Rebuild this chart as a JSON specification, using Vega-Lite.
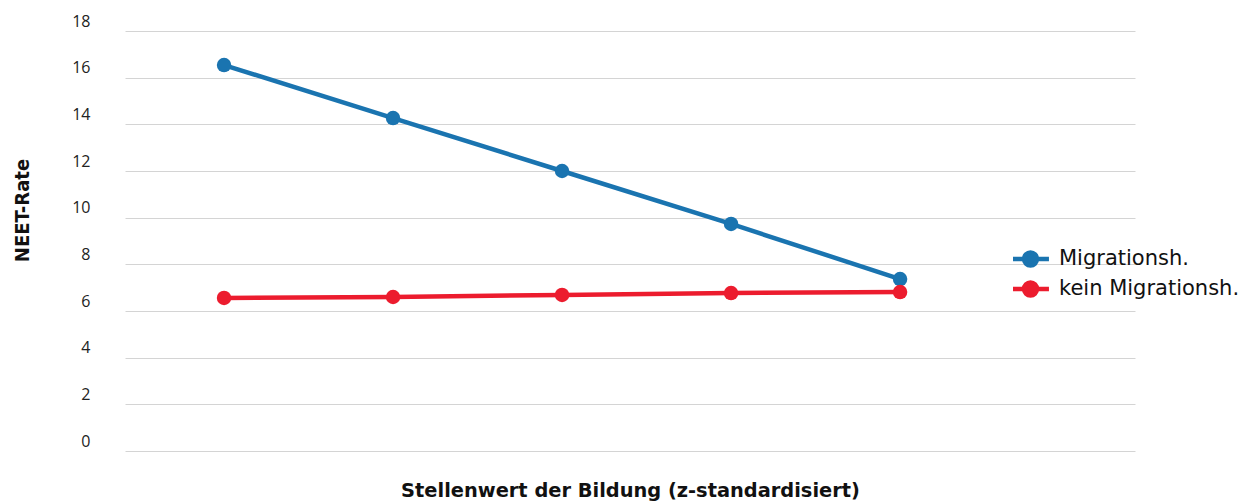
{
  "$schema": "https://vega.github.io/schema/vega-lite/v6.json",
  "autosize": {"type": "none"},
  "width": 1010,
  "height": 420,
  "padding": {"left": 125, "top": 31, "right": 115, "bottom": 50},
  "background": "white",
  "data": {
    "values": [
      {"z": -2, "gruppe": "Migrationsh.", "rate": 16.54},
      {"z": -1, "gruppe": "Migrationsh.", "rate": 14.27},
      {"z": 0, "gruppe": "Migrationsh.", "rate": 12.0},
      {"z": 1, "gruppe": "Migrationsh.", "rate": 9.73},
      {"z": 2, "gruppe": "Migrationsh.", "rate": 7.37},
      {"z": -2, "gruppe": "kein Migrationsh.", "rate": 6.56},
      {"z": -1, "gruppe": "kein Migrationsh.", "rate": 6.6},
      {"z": 0, "gruppe": "kein Migrationsh.", "rate": 6.69},
      {"z": 1, "gruppe": "kein Migrationsh.", "rate": 6.77},
      {"z": 2, "gruppe": "kein Migrationsh.", "rate": 6.81}
    ]
  },
  "mark": {"type": "line", "strokeWidth": 4.5, "point": {"size": 210, "filled": true, "opacity": 1}},
  "encoding": {
    "x": {
      "field": "z", "type": "quantitative",
      "scale": {"domain": [-2.586, 3.39], "nice": false, "zero": false},
      "axis": {
        "title": "Stellenwert der Bildung (z-standardisiert)",
        "labels": false, "ticks": false, "domain": false, "grid": false,
        "titleFont": "DejaVu Sans", "titleFontSize": 19.4, "titleFontWeight": "bold", "titleColor": "#111",
        "titleY": 39, "titleBaseline": "middle"
      }
    },
    "y": {
      "field": "rate", "type": "quantitative",
      "scale": {"domain": [0, 18], "nice": false},
      "axis": {
        "title": "NEET-Rate",
        "values": [0, 2, 4, 6, 8, 10, 12, 14, 16, 18],
        "domain": false, "ticks": false,
        "grid": true, "gridColor": "#d4d4d4", "gridWidth": 1,
        "labelFont": "Open Sans", "labelFontSize": 16, "labelColor": "#222",
        "labelPadding": 35, "labelOffset": -10,
        "titleFont": "DejaVu Sans Condensed", "titleFontSize": 20, "titleFontWeight": "bold", "titleColor": "#111",
        "titleX": -103, "titleY": 179, "titleAngle": -90, "titleAlign": "center", "titleBaseline": "middle"
      }
    },
    "color": {
      "field": "gruppe", "type": "nominal",
      "scale": {"domain": ["Migrationsh.", "kein Migrationsh."], "range": ["#1a74b0", "#ec1c2e"]},
      "legend": {
        "title": null, "orient": "none", "legendX": 888, "legendY": 214,
        "labelFont": "DejaVu Sans", "labelFontSize": 21, "labelColor": "#111", "labelLimit": 400,
        "symbolType": "M-1.23,0L1.23,0M-0.43,0A0.43,0.43 0 1,0 0.43,0A0.43,0.43 0 1,0 -0.43,0Z",
        "symbolSize": 900, "symbolStrokeWidth": 4.5, "rowPadding": 2, "clipHeight": 28, "labelOffset": 11
      }
    }
  },
  "config": {"view": {"stroke": null}}
}
